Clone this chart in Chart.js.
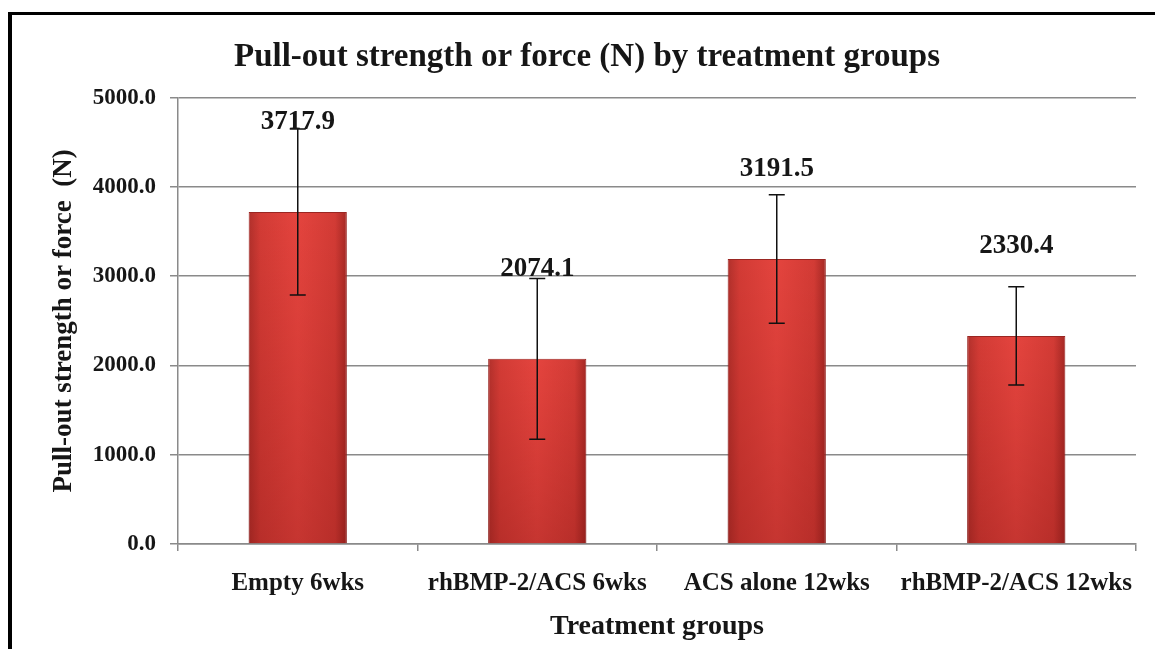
<!DOCTYPE html>
<html>
<head>
<meta charset="utf-8">
<script src="https://cdn.jsdelivr.net/npm/chart.js@4/dist/chart.umd.min.js"></script>
<style>
  html, body { margin: 0; padding: 0; background: #fff; }
  #frame { position: absolute; left: 8px; top: 12px; right: 0; bottom: 0; border-top: 3px solid #000; border-left: 4px solid #000; }
  #wrap { position: absolute; left: 0; top: 0; width: 1155px; height: 649px; }
</style>
</head>
<body>
<div id="frame"></div>
<div id="wrap"><canvas id="chart" width="1155" height="649"></canvas></div>
<script>
const groups = ['Empty 6wks', 'rhBMP-2/ACS 6wks', 'ACS alone 12wks', 'rhBMP-2/ACS 12wks'];
const strength = [3717.9, 2074.1, 3191.5, 2330.4];
const strengthSD = [930, 900, 720, 550];
const yTicks = [0, 1000, 2000, 3000, 4000, 5000];

const SERIF = '"Liberation Serif", "Times New Roman", serif';
const LABEL_GAP = 90;

function barFill(ctx) {
  const chart = ctx.chart;
  const x = chart.scales.x;
  if (!chart.chartArea || !x || ctx.dataIndex === undefined) return '#d63c36';
  const cx = x.getPixelForValue(ctx.dataIndex);
  const half = x.width / groups.length * 0.41 / 2;
  const g = chart.ctx.createLinearGradient(cx - half, 0, cx + half, 0);
  g.addColorStop(0, '#b0302b');
  g.addColorStop(0.12, '#d23b35');
  g.addColorStop(0.5, '#e4443e');
  g.addColorStop(0.88, '#d23b35');
  g.addColorStop(1, '#a42824');
  return g;
}

const barOverlay = {
  id: 'barOverlay',
  afterDatasetsDraw(chart) {
    const { ctx } = chart;
    const meta = chart.getDatasetMeta(0);
    meta.data.forEach(bar => {
      const p = bar.getProps(['x', 'y', 'base', 'width'], true);
      const g = ctx.createLinearGradient(0, p.y, 0, p.base);
      g.addColorStop(0, 'rgba(120,0,0,0)');
      g.addColorStop(1, 'rgba(90,0,0,0.22)');
      ctx.save();
      ctx.fillStyle = g;
      ctx.fillRect(p.x - p.width / 2, p.y, p.width, p.base - p.y);
      ctx.restore();
    });
  }
};

const errorBars = {
  id: 'errorBars',
  afterDatasetsDraw(chart) {
    const { ctx } = chart;
    const y = chart.scales.y;
    const meta = chart.getDatasetMeta(0);
    ctx.save();
    ctx.strokeStyle = '#111';
    ctx.lineWidth = 1.5;
    meta.data.forEach((bar, i) => {
      const cx = bar.x;
      const hi = y.getPixelForValue(strength[i] + strengthSD[i]);
      const lo = y.getPixelForValue(strength[i] - strengthSD[i]);
      ctx.beginPath();
      ctx.moveTo(cx, hi); ctx.lineTo(cx, lo);
      ctx.moveTo(cx - 8, hi); ctx.lineTo(cx + 8, hi);
      ctx.moveTo(cx - 8, lo); ctx.lineTo(cx + 8, lo);
      ctx.stroke();
    });
    ctx.restore();
  }
};

const valueLabels = {
  id: 'valueLabels',
  afterDatasetsDraw(chart) {
    const { ctx } = chart;
    const meta = chart.getDatasetMeta(0);
    ctx.save();
    ctx.font = 'bold 27px ' + SERIF;
    ctx.fillStyle = '#161616';
    ctx.textAlign = 'center';
    ctx.textBaseline = 'middle';
    meta.data.forEach((bar, i) => {
      ctx.fillText(strength[i].toFixed(1), bar.x, bar.y - LABEL_GAP);
    });
    ctx.restore();
  }
};

new Chart(document.getElementById('chart'), {
  type: 'bar',
  data: {
    labels: groups,
    datasets: [{
      label: 'Pull-out strength',
      data: strength,
      backgroundColor: barFill,
      borderColor: '#9a2622',
      borderWidth: 1,
      categoryPercentage: 1,
      barPercentage: 0.41
    }]
  },
  options: {
    responsive: false,
    animation: false,
    layout: { padding: { left: 38, right: 19, top: 0, bottom: 0 } },
    plugins: {
      legend: { display: false },
      tooltip: { enabled: false },
      title: {
        display: true,
        text: 'Pull-out strength or force (N) by treatment groups',
        color: '#161616',
        font: { family: SERIF, size: 33, weight: 'bold' },
        padding: { top: 38, bottom: 20 }
      }
    },
    scales: {
      x: {
        afterFit: s => { s.height = 105; },
        border: { color: '#8a8a8a', width: 1.5 },
        grid: { drawOnChartArea: false, drawTicks: true, tickLength: 7, color: '#8a8a8a', lineWidth: 1.5 },
        ticks: { color: '#161616', font: { family: SERIF, size: 25, weight: 'bold' }, padding: 18, maxRotation: 0, minRotation: 0, autoSkip: false },
        title: { display: true, text: 'Treatment groups', color: '#161616', font: { family: SERIF, size: 28, weight: 'bold' }, padding: { top: 0, bottom: 5 } }
      },
      y: {
        min: 0,
        max: 5000,
        afterFit: s => { s.width = 140; },
        afterBuildTicks: s => { s.ticks = yTicks.map(v => ({ value: v })); },
        border: { color: '#8a8a8a', width: 1.5 },
        grid: { color: '#8a8a8a', lineWidth: 1.5, tickLength: 8 },
        ticks: { color: '#161616', font: { family: SERIF, size: 23, weight: 'bold' }, padding: 14, callback: v => Number(v).toFixed(1) },
        title: { display: true, text: 'Pull-out strength or force  (N)', color: '#161616', font: { family: SERIF, size: 27, weight: 'bold' }, padding: { top: 10, bottom: 0 } }
      }
    }
  },
  plugins: [barOverlay, errorBars, valueLabels]
});
</script>
</body>
</html>
